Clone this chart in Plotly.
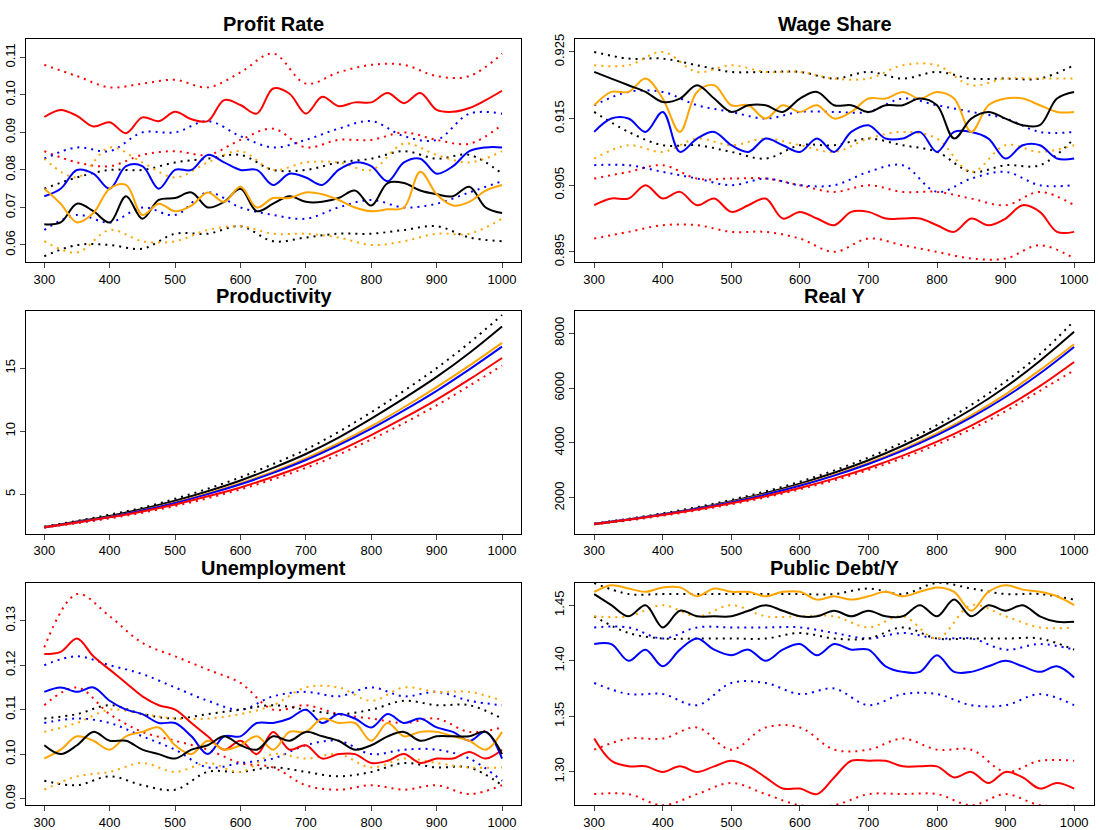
import plotly.graph_objects as go

x25 = list(range(300, 1001, 25))
x50 = list(range(300, 1001, 50))

# ---- Profit Rate ----
pr_red = [.0941,.0960,.0944,.0916,.0927,.0898,.0940,.0930,.0955,.0935,.0930,.0986,.0973,.0950,.1017,.1003,.0950,.0995,.0970,.0980,.0980,.1005,.0978,.1005,.0960,.0955,.0965,.0986,.1011]
pr_red_up = [.108,.105,.102,.103,.104,.102,.106,.111,.103,.106,.108,.108,.105,.105,.111]
pr_red_lo = [.085,.082,.081,.084,.085,.084,.088,.091,.086,.088,.088,.090,.088,.087,.092]
pr_blue = [.073,.075,.080,.079,.075,.081,.081,.075,.080,.080,.084,.082,.080,.080,.076,.079,.078,.076,.080,.082,.081,.077,.082,.083,.079,.081,.085,.086,.086]
pr_blue_up = [.083,.086,.085,.090,.090,.093,.089,.086,.088,.091,.093,.089,.088,.095,.095]
pr_blue_lo = [.064,.068,.066,.070,.068,.074,.070,.068,.067,.070,.072,.070,.071,.074,.077]
pr_black = [.0655,.066,.071,.069,.066,.073,.067,.072,.0725,.074,.070,.0715,.075,.069,.071,.073,.0715,.0715,.0725,.0745,.0705,.0765,.0765,.0745,.0735,.073,.0755,.070,.0685]
pr_black_up = [.075,.078,.080,.080,.082,.083,.084,.080,.080,.082,.083,.085,.083,.084,.079]
pr_black_lo = [.057,.060,.060,.059,.063,.063,.065,.061,.062,.063,.063,.064,.065,.062,.061]
pr_orange = [.075,.071,.066,.0685,.075,.076,.068,.071,.069,.0705,.074,.0715,.0755,.070,.0725,.0725,.074,.0735,.072,.070,.069,.0695,.070,.0795,.0735,.0705,.0715,.0745,.076]
pr_orange_up = [.083,.078,.086,.082,.078,.082,.085,.080,.082,.082,.080,.087,.084,.082,.085]
pr_orange_lo = [.061,.058,.064,.061,.061,.064,.065,.063,.063,.062,.060,.061,.063,.063,.067]

# ---- Wage Share ----
ws_black = [.922,.921,.920,.919,.9175,.918,.920,.918,.916,.917,.917,.916,.918,.919,.917,.917,.916,.917,.917,.918,.917,.912,.915,.916,.915,.914,.914,.918,.919]
ws_black_up = [.925,.924,.924,.923,.922,.922,.922,.921,.922,.921,.922,.921,.921,.921,.923]
ws_black_lo = [.916,.913,.911,.911,.910,.909,.911,.911,.912,.911,.910,.907,.908,.908,.912]
ws_orange = [.917,.919,.919,.921,.918,.913,.919,.920,.917,.917,.915,.917,.916,.917,.915,.916,.918,.918,.919,.918,.919,.918,.913,.917,.918,.918,.917,.916,.916]
ws_orange_up = [.923,.923,.925,.922,.923,.922,.922,.921,.921,.923,.923,.920,.921,.921,.921]
ws_orange_lo = [.909,.911,.910,.912,.911,.912,.911,.910,.912,.913,.912,.907,.911,.910,.911]
ws_blue = [.913,.915,.915,.913,.916,.910,.912,.913,.911,.910,.912,.911,.910,.912,.910,.913,.914,.912,.912,.913,.910,.913,.913,.912,.909,.911,.911,.909,.909]
ws_blue_up = [.917,.919,.919,.917,.916,.915,.916,.916,.916,.918,.917,.916,.915,.913,.913]
ws_blue_lo = [.908,.908,.907,.906,.905,.906,.905,.905,.907,.908,.904,.906,.907,.905,.905]
ws_red = [.902,.903,.903,.905,.903,.904,.902,.903,.901,.902,.903,.900,.901,.900,.899,.901,.901,.900,.900,.900,.899,.898,.900,.899,.900,.902,.901,.898,.898]
ws_red_up = [.906,.907,.908,.906,.906,.906,.905,.904,.905,.904,.904,.903,.902,.904,.902]
ws_red_lo = [.897,.898,.899,.899,.898,.898,.897,.895,.897,.896,.895,.894,.894,.896,.894]

# ---- Productivity ----
pd_black = [2.4,2.85,3.3,3.85,4.5,5.25,6.1,7.1,8.2,9.5,11.0,12.6,14.3,16.2,18.3]
pd_black_up = [2.45,2.9,3.4,3.95,4.65,5.45,6.35,7.4,8.55,9.95,11.5,13.2,15.0,17.0,19.2]
pd_orange = [2.4,2.8,3.22,3.75,4.37,5.08,5.88,6.8,7.85,9.05,10.4,11.9,13.5,15.2,17.0]
pd_blue = [2.4,2.8,3.2,3.72,4.32,5.02,5.8,6.7,7.72,8.9,10.2,11.65,13.2,14.9,16.7]
pd_red = [2.4,2.78,3.18,3.65,4.2,4.85,5.55,6.4,7.35,8.45,9.7,11.05,12.5,14.1,15.8]
pd_red_lo = [2.35,2.72,3.1,3.55,4.08,4.7,5.4,6.2,7.1,8.15,9.35,10.65,12.05,13.6,15.2]

# ---- Real Y ----
ry_black = [1050,1215,1405,1625,1880,2175,2520,2915,3370,3900,4510,5220,6040,6990,8050]
ry_black_up = [1070,1240,1440,1665,1930,2235,2590,3000,3470,4020,4650,5390,6240,7230,8450]
ry_orange = [1050,1210,1395,1608,1853,2136,2462,2838,3271,3770,4346,5009,5773,6654,7600]
ry_blue = [1050,1208,1391,1601,1843,2121,2441,2810,3234,3722,4284,4931,5675,6532,7500]
ry_red = [1050,1202,1375,1574,1801,2062,2360,2701,3091,3538,4049,4634,5304,6070,6950]
ry_red_lo = [1030,1180,1350,1545,1765,2020,2310,2640,3020,3450,3945,4510,5160,5900,6650]

# ---- Unemployment ----
un_red = [.1225,.123,.126,.122,.119,.116,.113,.111,.110,.107,.104,.101,.103,.100,.105,.101,.102,.099,.100,.100,.098,.0985,.100,.098,.099,.099,.1005,.099,.101]
un_red_up = [.124,.136,.131,.125,.122,.119,.116,.110,.111,.109,.108,.107,.108,.105,.106]
un_red_lo = [.111,.115,.109,.105,.103,.101,.098,.097,.093,.092,.093,.092,.093,.091,.093]
un_blue = [.114,.115,.114,.115,.112,.110,.109,.107,.107,.104,.100,.104,.104,.107,.107,.108,.110,.107,.109,.108,.106,.109,.107,.108,.106,.105,.103,.105,.099]
un_blue_up = [.120,.122,.120,.118,.115,.112,.110,.113,.114,.113,.115,.113,.114,.112,.111]
un_blue_lo = [.107,.108,.107,.104,.101,.097,.098,.099,.102,.103,.100,.101,.101,.099,.094]
un_black = [.102,.100,.102,.105,.103,.103,.101,.100,.099,.101,.102,.104,.102,.101,.104,.103,.105,.104,.103,.101,.102,.104,.105,.103,.104,.104,.104,.105,.100]
un_black_up = [.108,.109,.111,.109,.108,.109,.110,.111,.110,.109,.110,.112,.111,.111,.108]
un_black_lo = [.094,.093,.095,.093,.092,.096,.096,.097,.096,.095,.096,.098,.097,.097,.093]
un_orange = [.099,.101,.104,.103,.101,.104,.105,.106,.102,.100,.103,.101,.102,.104,.101,.105,.105,.108,.107,.107,.103,.107,.104,.105,.105,.104,.103,.101,.105]
un_orange_up = [.105,.107,.110,.109,.108,.108,.109,.111,.115,.115,.112,.115,.114,.114,.112]
un_orange_lo = [.092,.095,.096,.098,.096,.098,.096,.100,.099,.100,.097,.099,.098,.097,.097]

# ---- Public Debt/Y ----
db_orange = [1.462,1.468,1.465,1.462,1.466,1.466,1.458,1.465,1.462,1.462,1.458,1.462,1.462,1.455,1.458,1.455,1.458,1.462,1.458,1.462,1.466,1.462,1.445,1.462,1.468,1.464,1.462,1.458,1.45]
db_orange_up = [1.48,1.485,1.48,1.485,1.48,1.485,1.48,1.485,1.48,1.485,1.48,1.485,1.48,1.485,1.48]
db_orange_lo = [1.44,1.44,1.45,1.44,1.45,1.44,1.44,1.44,1.43,1.44,1.42,1.45,1.44,1.43,1.43]
db_black = [1.46,1.45,1.44,1.45,1.43,1.445,1.44,1.44,1.44,1.445,1.45,1.445,1.44,1.44,1.445,1.44,1.445,1.44,1.44,1.45,1.44,1.455,1.44,1.45,1.445,1.45,1.44,1.435,1.435]
db_black_up = [1.47,1.46,1.46,1.46,1.46,1.46,1.46,1.46,1.465,1.46,1.47,1.465,1.46,1.46,1.455]
db_black_lo = [1.44,1.425,1.42,1.42,1.42,1.42,1.425,1.42,1.42,1.43,1.42,1.42,1.42,1.42,1.41]
db_blue = [1.415,1.415,1.40,1.41,1.395,1.41,1.42,1.41,1.405,1.41,1.40,1.41,1.415,1.405,1.415,1.41,1.41,1.395,1.39,1.39,1.405,1.39,1.39,1.395,1.40,1.395,1.39,1.395,1.385]
db_blue_up = [1.43,1.43,1.42,1.43,1.43,1.43,1.43,1.425,1.42,1.425,1.42,1.42,1.41,1.415,1.41]
db_blue_lo = [1.38,1.37,1.37,1.36,1.38,1.38,1.37,1.375,1.36,1.37,1.37,1.36,1.36,1.37,1.36]
db_red = [1.33,1.31,1.305,1.305,1.30,1.305,1.30,1.305,1.31,1.305,1.295,1.285,1.285,1.28,1.295,1.31,1.31,1.31,1.305,1.305,1.305,1.295,1.30,1.29,1.30,1.295,1.285,1.29,1.285]
db_red_up = [1.32,1.33,1.33,1.34,1.32,1.34,1.34,1.32,1.32,1.33,1.32,1.32,1.30,1.31,1.31]
db_red_lo = [1.28,1.28,1.27,1.28,1.29,1.28,1.27,1.27,1.28,1.28,1.28,1.27,1.28,1.27,1.27]

RED, BLUE, BLACK, ORANGE = "#FF0000", "#0000FF", "#000000", "#FFA500"

panels = [
    dict(title="Profit Rate", yr=[0.0555, 0.115], tv=[0.06,0.07,0.08,0.09,0.10,0.11], tt=["0.06","0.07","0.08","0.09","0.10","0.11"],
         means=[(x25, pr_red, RED), (x25, pr_blue, BLUE), (x25, pr_black, BLACK), (x25, pr_orange, ORANGE)],
         bands=[(x50, pr_red_up, RED), (x50, pr_red_lo, RED), (x50, pr_blue_up, BLUE), (x50, pr_blue_lo, BLUE),
                (x50, pr_black_up, BLACK), (x50, pr_black_lo, BLACK), (x50, pr_orange_up, ORANGE), (x50, pr_orange_lo, ORANGE)]),
    dict(title="Wage Share", yr=[0.8935, 0.927], tv=[0.895,0.905,0.915,0.925], tt=["0.895","0.905","0.915","0.925"],
         means=[(x25, ws_red, RED), (x25, ws_blue, BLUE), (x25, ws_orange, ORANGE), (x25, ws_black, BLACK)],
         bands=[(x50, ws_red_up, RED), (x50, ws_red_lo, RED), (x50, ws_blue_up, BLUE), (x50, ws_blue_lo, BLUE),
                (x50, ws_black_up, BLACK), (x50, ws_black_lo, BLACK), (x50, ws_orange_up, ORANGE), (x50, ws_orange_lo, ORANGE)]),
    dict(title="Productivity", yr=[1.9, 19.5], tv=[5,10,15], tt=["5","10","15"],
         means=[(x50, pd_black, BLACK), (x50, pd_orange, ORANGE), (x50, pd_blue, BLUE), (x50, pd_red, RED)],
         bands=[(x50, pd_black_up, BLACK), (x50, pd_red_lo, RED)]),
    dict(title="Real Y", yr=[700, 8800], tv=[2000,4000,6000,8000], tt=["2000","4000","6000","8000"],
         means=[(x50, ry_black, BLACK), (x50, ry_orange, ORANGE), (x50, ry_blue, BLUE), (x50, ry_red, RED)],
         bands=[(x50, ry_black_up, BLACK), (x50, ry_red_lo, RED)]),
    dict(title="Unemployment", yr=[0.0885, 0.1385], tv=[0.09,0.10,0.11,0.12,0.13], tt=["0.09","0.10","0.11","0.12","0.13"],
         means=[(x25, un_red, RED), (x25, un_blue, BLUE), (x25, un_orange, ORANGE), (x25, un_black, BLACK)],
         bands=[(x50, un_red_up, RED), (x50, un_red_lo, RED), (x50, un_blue_up, BLUE), (x50, un_blue_lo, BLUE),
                (x50, un_black_up, BLACK), (x50, un_black_lo, BLACK), (x50, un_orange_up, ORANGE), (x50, un_orange_lo, ORANGE)]),
    dict(title="Public Debt/Y", yr=[1.27, 1.47], tv=[1.30,1.35,1.40,1.45], tt=["1.30","1.35","1.40","1.45"],
         means=[(x25, db_red, RED), (x25, db_blue, BLUE), (x25, db_orange, ORANGE), (x25, db_black, BLACK)],
         bands=[(x50, db_red_up, RED), (x50, db_red_lo, RED), (x50, db_blue_up, BLUE), (x50, db_blue_lo, BLUE),
                (x50, db_black_up, BLACK), (x50, db_black_lo, BLACK), (x50, db_orange_up, ORANGE), (x50, db_orange_lo, ORANGE)]),
]

W, H = 1099, 830
xdoms = [[26/W, 521/W], [575/W, 1094/W]]
ydoms = [[1-260/H, 1-34/H], [1-535/H, 1-310/H], [1-810/H, 1-585/H]]

fig = go.Figure()
layout = {}
annotations = []
for i, p in enumerate(panels):
    r, c = divmod(i, 2)
    n = i + 1
    xa, ya = ("x%d" % n if n > 1 else "x"), ("y%d" % n if n > 1 else "y")
    for xs, ys, col in p["bands"]:
        fig.add_trace(go.Scatter(x=xs, y=ys, mode="lines", xaxis=xa, yaxis=ya, showlegend=False,
                                 line=dict(color=col, width=2, dash="2px,5px", shape="spline", smoothing=1.0)))
    for xs, ys, col in p["means"]:
        fig.add_trace(go.Scatter(x=xs, y=ys, mode="lines", xaxis=xa, yaxis=ya, showlegend=False,
                                 line=dict(color=col, width=2, shape="spline", smoothing=1.0)))
    ax = dict(domain=xdoms[c], range=[272, 1029], tickvals=list(range(300, 1001, 100)),
              showline=True, mirror=True, linecolor="black", linewidth=1.2, ticks="outside",
              ticklen=5, showgrid=False, zeroline=False, anchor=ya, tickfont=dict(size=13))
    ay = dict(domain=ydoms[r], range=p["yr"], tickvals=p["tv"], ticktext=p["tt"], tickangle=-90,
              showline=True, mirror=True, linecolor="black", linewidth=1.2, ticks="outside",
              ticklen=5, showgrid=False, zeroline=False, anchor=xa, tickfont=dict(size=13))
    layout["xaxis%d" % n if n > 1 else "xaxis"] = ax
    layout["yaxis%d" % n if n > 1 else "yaxis"] = ay
    annotations.append(dict(text="<b>%s</b>" % p["title"], x=(xdoms[c][0]+xdoms[c][1])/2, y=ydoms[r][1],
                            xref="paper", yref="paper", xanchor="center", yanchor="bottom", yshift=2,
                            showarrow=False, font=dict(size=20, color="black")))

fig.update_layout(**layout)
fig.update_layout(width=W, height=H, margin=dict(l=0, r=0, t=0, b=0), plot_bgcolor="white",
                  paper_bgcolor="white", font=dict(family="Liberation Sans, Arial", color="black"),
                  annotations=annotations)
fig.write_html("out.html", config={"displayModeBar": False},
               post_script="document.body.style.margin='0';document.body.style.overflow='hidden';")
